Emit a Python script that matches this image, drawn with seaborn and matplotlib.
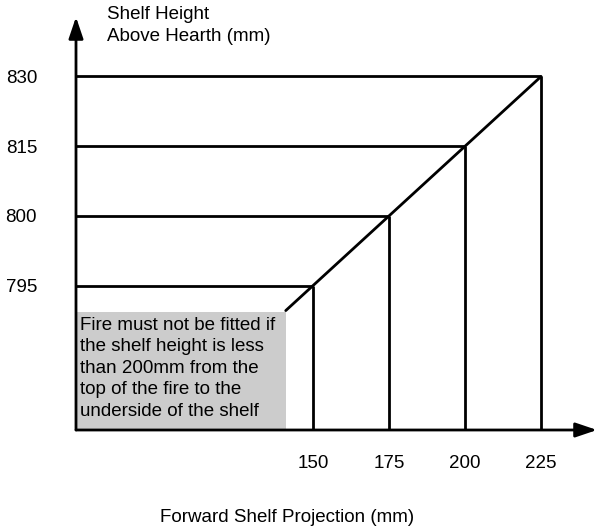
import numpy as np
import matplotlib
matplotlib.use("Agg")
import matplotlib.pyplot as plt
import seaborn as sns

# chart values
projection = [150, 175, 200, 225]          # forward shelf projection (mm)
shelf_height = [795, 800, 815, 830]        # shelf height above hearth (mm)
levels = [0, 1, 2, 3]                      # y axis is drawn as evenly spaced steps

# diagonal limit line (extends a little below the 795 step)
diag_x = [141, 150, 175, 200, 225]
diag_level = [-0.36, 0, 1, 2, 3]

note = ("Fire must not be fitted if\nthe shelf height is less\n"
        "than 200mm from the\ntop of the fire to the\nunderside of the shelf")

sns.set_theme(style="white")
plt.rcParams['font.family'] = ['Liberation Sans', 'DejaVu Sans']
plt.rcParams['text.color'] = 'black'
fs = 13.5

fig = plt.figure(figsize=(5.97, 5.29), dpi=100)
ax = fig.add_axes([76 / 597, 99 / 529, 521 / 597, 413 / 529])

xmin, xmax = 72.0, 243.4
ymin, ymax = -2.074, 3.854
ax.set_xlim(xmin, xmax)
ax.set_ylim(ymin, ymax)

# grey note box
ax.fill_between([xmin, 141], ymin, -0.38, color="#cccccc", lw=0, zorder=1)
ax.text(73.4, -0.45, note, fontsize=fs, va="top", ha="left",
        linespacing=1.34, color="black", zorder=3)

# step lines
ax.hlines(levels, xmin, projection, color="black", lw=2, zorder=2)
ax.vlines(projection, ymin, levels, color="black", lw=2, zorder=2)

# diagonal
sns.lineplot(x=diag_x, y=diag_level, ax=ax, color="black", lw=2,
             zorder=2, sort=False)

# axes with arrow heads
for s in ["top", "right", "left", "bottom"]:
    ax.spines[s].set_visible(False)
arrow = dict(arrowstyle="-|>,head_length=0.65,head_width=0.22",
             color="black", lw=2, mutation_scale=20, shrinkA=0, shrinkB=0)
ax.annotate("", xy=(0, 1), xytext=(0, 0), xycoords="axes fraction",
            arrowprops=arrow, annotation_clip=False)
ax.annotate("", xy=(1, 0), xytext=(0, 0), xycoords="axes fraction",
            arrowprops=arrow, annotation_clip=False)

ax.set_yticks(levels, [str(v) for v in shelf_height])
ax.set_xticks(projection, [str(v) for v in projection])
ax.tick_params(axis="y", length=0, pad=28, labelsize=fs, labelcolor="black")
ax.tick_params(axis="x", length=0, pad=18, labelsize=fs, labelcolor="black")
ax.grid(False)

fig.text(107 / 597, 1 - 6 / 529, "Shelf Height\nAbove Hearth (mm)",
         fontsize=fs, ha="left", va="top", linespacing=1.35, color="black")
fig.text(287 / 597, 1 - 518 / 529, "Forward Shelf Projection (mm)",
         fontsize=fs, ha="center", va="center", color="black")

fig.savefig("out.png", dpi=100)
